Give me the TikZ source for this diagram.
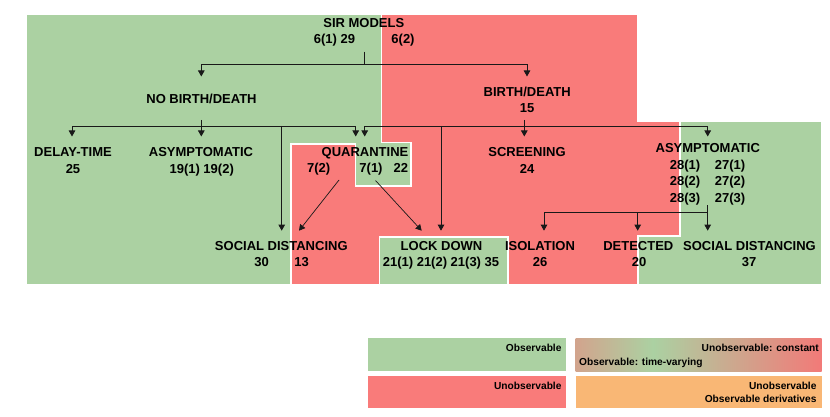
\documentclass[tikz,border=0pt]{standalone}
\usepackage{fontspec}
\setmainfont{Liberation Sans}
\usetikzlibrary{arrows.meta}
\definecolor{obsgreen}{HTML}{ABD1A2}
\definecolor{unred}{HTML}{F97B7A}
\definecolor{derivorange}{HTML}{F9B775}
\definecolor{tanc}{HTML}{D2A48D}
\definecolor{gradred}{HTML}{F27A78}
\begin{document}
\begin{tikzpicture}[x=1pt,y=-1pt,
  region/.style={draw=white, line width=1.8pt, line join=miter},
  lbl/.style={font=\fontsize{13}{15}\selectfont\bfseries, inner sep=0pt, anchor=base},
  leg/.style={font=\fontsize{10.2}{12}\selectfont\bfseries, inner sep=0pt},
  conn/.style={draw=black!90, line width=0.9pt},
  arr/.style={conn, -{Triangle[width=6.5pt,length=6pt]}},
]
\useasboundingbox (0,0) rectangle (830,417);
\fill[white] (0,0) rectangle (830,417);

% ---- regions
\path[region, fill=obsgreen] (25.6,14.2) -- (381.5,14.2) -- (381.5,142.5) -- (411,142.5) -- (411,186) -- (355.5,186) -- (355.5,144.3) -- (290.6,144.3) -- (290.6,284.4) -- (25.6,284.4) -- cycle;
\path[region, fill=unred] (381.5,14.2) -- (637.8,14.2) -- (637.8,120.9) -- (680.3,120.9) -- (680.3,236) -- (637.8,236) -- (637.8,284.4) -- (290.6,284.4) -- (290.6,144.3) -- (355.5,144.3) -- (355.5,186) -- (411,186) -- (411,142.5) -- (381.5,142.5) -- cycle;
\path[region, fill=obsgreen] (680.3,120.9) -- (822,120.9) -- (822,284.4) -- (637.8,284.4) -- (637.8,236) -- (680.3,236) -- cycle;
\path[region, fill=obsgreen] (379.5,236.7) rectangle (507.8,284.4);

% ---- legend boxes
\fill[obsgreen] (368.3,338.3) rectangle (565.7,371);
\fill[unred] (368.3,375.7) rectangle (565.7,408.3);
\shade[left color=tanc, right color=obsgreen] (575.7,338.3) rectangle (653.3,371);
\shade[left color=obsgreen, right color=gradred] (653,338.3) rectangle (821.7,371);
\fill[derivorange] (575.7,375.7) rectangle (821.7,408.3);

% ---- labels
\node[lbl] (sir) at (363.8,27.3) {SIR MODELS};
\node[lbl] (sirA) at (334.5,44) {6(1) 29};
\node[lbl] (sirB) at (403,44) {6(2)};
\node[lbl] (nobd) at (201.5,103.7) {NO BIRTH/DEATH};
\node[lbl] (bd) at (527.2,96.3) {BIRTH/DEATH};
\node[lbl] (bdn) at (527,113) {15};
\node[lbl] (delay) at (73,156.3) {DELAY-TIME};
\node[lbl] (delayn) at (73,173) {25};
\node[lbl] (asyl) at (201,156.3) {ASYMPTOMATIC};
\node[lbl] (asyln) at (201.7,173) {19(1) 19(2)};
\node[lbl] (quar) at (365,156.3) {QUARANTINE};
\node[lbl] (quarA) at (318.7,172.7) {7(2)};
\node[lbl] (quarB) at (371,172.7) {7(1)};
\node[lbl] (quarC) at (400.8,172.7) {22};
\node[lbl] (scr) at (527,156.3) {SCREENING};
\node[lbl] (scrn) at (527,173) {24};
\node[lbl] (asyr) at (707.8,152.3) {ASYMPTOMATIC};
\node[lbl] (a281) at (685,169) {28(1)};
\node[lbl] (a271) at (730,169) {27(1)};
\node[lbl] (a282) at (685,185.7) {28(2)};
\node[lbl] (a272) at (730,185.7) {27(2)};
\node[lbl] (a283) at (685,202) {28(3)};
\node[lbl] (a273) at (730,202) {27(3)};
\node[lbl] (sdl) at (281.3,250.3) {SOCIAL DISTANCING};
\node[lbl] (sdlA) at (261.7,266.3) {30};
\node[lbl] (sdlB) at (301.7,266.3) {13};
\node[lbl] (lock) at (441.5,250.3) {LOCK DOWN};
\node[lbl] (lockn) at (441,266.3) {21(1) 21(2) 21(3) 35};
\node[lbl] (iso) at (540,250.3) {ISOLATION};
\node[lbl] (ison) at (540,266.3) {26};
\node[lbl] (det) at (638.3,250.3) {DETECTED};
\node[lbl] (detn) at (639,266.3) {20};
\node[lbl] (sdr) at (749.5,250.3) {SOCIAL DISTANCING};
\node[lbl] (sdrn) at (749,266.3) {37};

% ---- legend labels
\node[leg, anchor=base east] (legObs) at (561.7,351.9) {Observable};
\node[leg, anchor=base east] (legConst) at (819,351.9) {Unobservable: constant};
\node[leg, anchor=base west] (legTV) at (579,365.3) {Observable: time-varying};
\node[leg, anchor=base east] (legUn) at (561.7,389.3) {Unobservable};
\node[leg, anchor=base east] (legUnB) at (816.7,389.3) {Unobservable};
\node[leg, anchor=base east] (legDer) at (816.7,402.6) {Observable derivatives};

% ---- connector coordinates
\coordinate (sirJ) at (364.3,51.7);
\coordinate (sirBus) at (364.3,64.3);
\coordinate (nobdTop) at (201.3,76.5);
\coordinate (bdTop) at (527,76.5);
\coordinate (nobdJ) at (201.3,120);
\coordinate (nobdBus) at (201.3,126);
\coordinate (delayTop) at (72,136.5);
\coordinate (asylTop) at (201.3,136.5);
\coordinate (quarTopL) at (355.7,136.5);
\coordinate (sdlBranch) at (281.7,126);
\coordinate (sdlTop) at (281.7,230.7);
\coordinate (bdJ) at (524.3,120);
\coordinate (bdBus) at (524.3,126);
\coordinate (quarTopR) at (364.7,136.5);
\coordinate (scrTop) at (524.3,136.5);
\coordinate (asyrTop) at (707.7,136.5);
\coordinate (lockBranch) at (441,126);
\coordinate (lockTop) at (441,230.7);
\coordinate (quarAOut) at (339,180);
\coordinate (sdlDiag) at (299,230.7);
\coordinate (quarBOut) at (375.5,180.5);
\coordinate (lockDiag) at (421.7,230.7);
\coordinate (asyrJ) at (707.7,205);
\coordinate (asyrBus) at (707.7,212.3);
\coordinate (isoTop) at (544,230.7);
\coordinate (detTop) at (637.7,230.7);
\coordinate (sdrTop) at (707.7,230.7);

% ---- connectors
\draw[conn] (sirJ) -- (sirBus);
\draw[arr] (sirBus) -| (nobdTop);
\draw[arr] (sirBus) -| (bdTop);
\draw[conn] (nobdJ) -- (nobdBus);
\draw[arr] (nobdBus) -- (asylTop);
\draw[arr] (nobdBus) -| (delayTop);
\draw[arr] (nobdBus) -| (quarTopL);
\draw[arr] (sdlBranch) -- (sdlTop);
\draw[conn] (bdJ) -- (bdBus);
\draw[arr] (bdBus) -- (scrTop);
\draw[arr] (bdBus) -| (quarTopR);
\draw[arr] (bdBus) -| (asyrTop);
\draw[arr] (lockBranch) -- (lockTop);
\draw[arr, line width=0.7pt] (quarAOut) -- (sdlDiag);
\draw[arr, line width=0.7pt] (quarBOut) -- (lockDiag);
\draw[conn] (asyrJ) -- (asyrBus);
\draw[arr] (asyrBus) -- (sdrTop);
\draw[arr] (asyrBus) -| (isoTop);
\draw[arr] (asyrBus) -| (detTop);
\end{tikzpicture}
\end{document}
